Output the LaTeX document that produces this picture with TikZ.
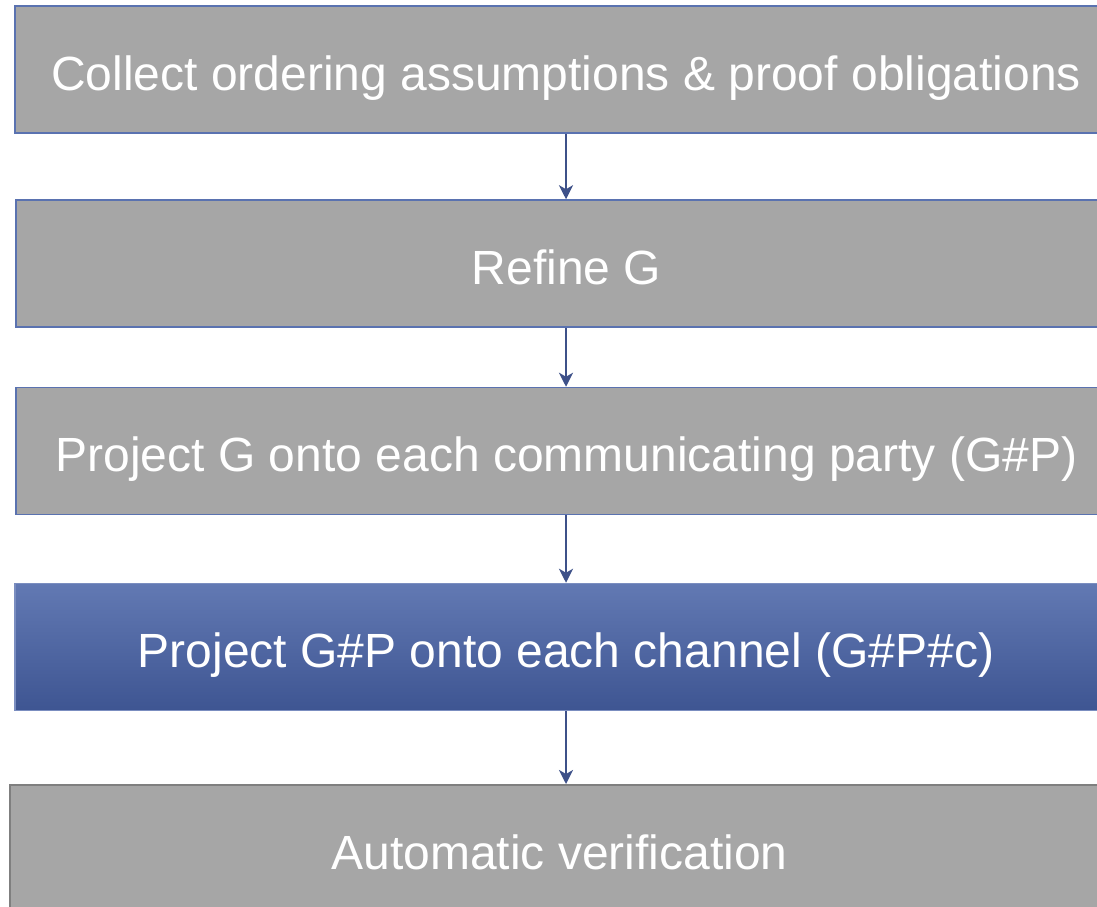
\documentclass[tikz,border=0pt]{standalone}
\usepackage{fontspec}
\setmainfont{Liberation Sans}
\usetikzlibrary{arrows.meta}
\definecolor{boxgray}{HTML}{A6A6A6}
\definecolor{boxline}{HTML}{5A72B0}
\definecolor{arrowblue}{HTML}{3E5189}
\definecolor{gradtop}{HTML}{6279B3}
\definecolor{gradbot}{HTML}{3E5592}
\definecolor{grayline}{HTML}{7F7F7F}
\tikzset{
  stepbox/.style={rectangle, fill=boxgray, draw=boxline, line width=1.5pt,
    text=white, font=\fontsize{48}{58}\selectfont, inner sep=0pt,
    text height=41pt, text depth=0pt, minimum height=127pt},
  activebox/.style={stepbox, draw=boxline!80!white, top color=gradtop, bottom color=gradbot},
  lastbox/.style={stepbox, draw=grayline, line width=2pt},
  flow/.style={draw=arrowblue, line width=2.2pt, -{Stealth[length=14pt,width=14pt,inset=4pt]}}
}
\begin{document}
\begin{tikzpicture}[x=1pt,y=-1pt]
\clip (0,0) rectangle (1097,907);
\fill[white] (0,0) rectangle (1097,907);
\node[stepbox, minimum width=1102pt] (b1) at (566,69.5) {Collect ordering assumptions \& proof obligations};
\node[stepbox, minimum width=1101pt] (b2) at (566.5,263.5) {Refine G};
\node[stepbox, minimum width=1101pt] (b3) at (566.5,451) {Project G onto each communicating party (G\#P)};
\node[activebox, minimum width=1102pt] (b4) at (566,647) {Project G\#P onto each channel (G\#P\#c)};
\node[lastbox, minimum width=1099pt] (b5) at (559.5,848.5) {Automatic verification};
\draw[flow] (b1.south) -- (b1.south |- b2.north);
\draw[flow] (b1.south |- b2.south) -- (b1.south |- b3.north);
\draw[flow] (b1.south |- b3.south) -- (b1.south |- b4.north);
\draw[flow] (b4.south) -- (b4.south |- b5.north);
\end{tikzpicture}
\end{document}
